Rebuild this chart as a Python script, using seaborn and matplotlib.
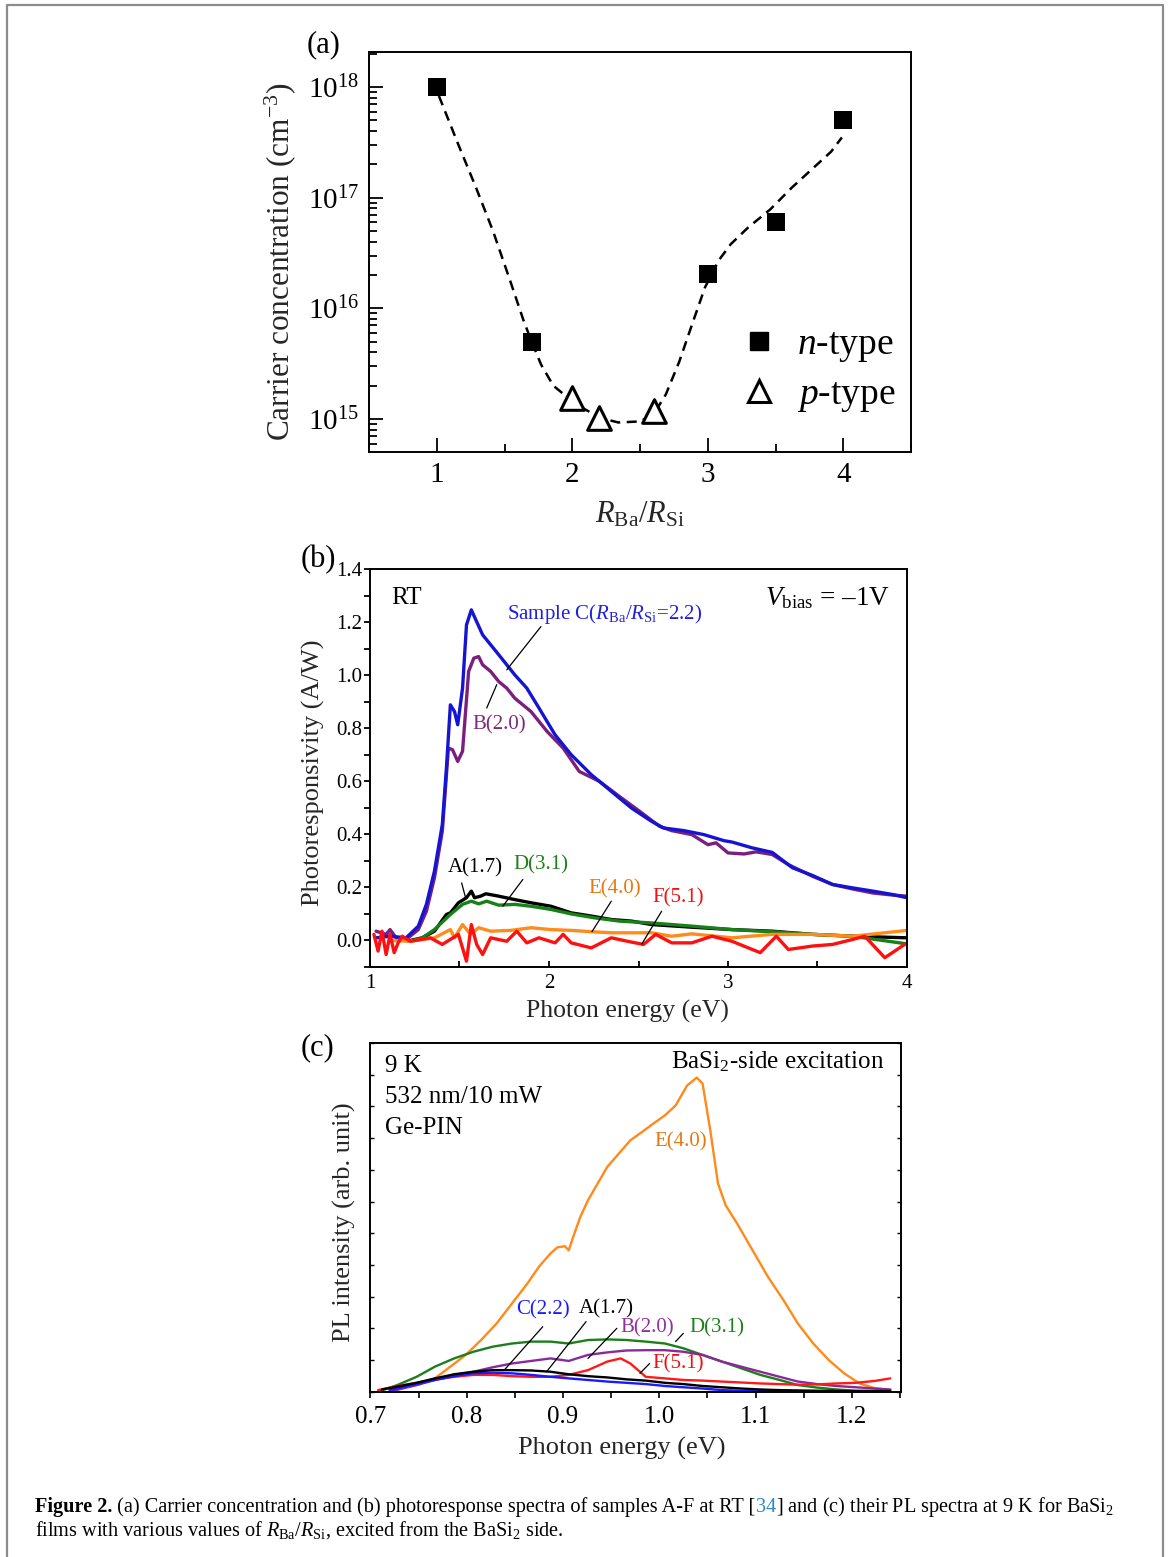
import numpy as np
import pandas as pd
import matplotlib
matplotlib.use("Agg")
import matplotlib.pyplot as plt
import seaborn as sns
from matplotlib.ticker import (MultipleLocator, LogLocator, NullFormatter,
                               FormatStrFormatter, NullLocator)
from matplotlib.lines import Line2D

# ---------------- data: panel (a) ----------------
ratio_n = [1.0, 1.7, 3.0, 3.5, 4.0]
conc_n = [1.0e18, 5.0e15, 2.05e16, 6.0e16, 5.0e17]
ratio_p = [2.0, 2.2, 2.6]
conc_p = [1.55e15, 1.02e15, 1.17e15]
fit_ratio = [1.016, 1.16, 1.29, 1.415, 1.54, 1.64, 1.70, 1.77, 1.86, 1.97, 2.09,
             2.21, 2.34, 2.50, 2.60, 2.69, 2.79, 2.885, 2.98, 3.08, 3.17, 3.30,
             3.46, 3.62, 3.78, 3.91, 3.99]
fit_conc = [8.3e17, 3.0e17, 1.23e17, 5.0e16, 1.8e16, 7.8e15, 5.0e15, 3.1e15,
            2.0e15, 1.55e15, 1.23e15, 1.02e15, 9.3e14, 9.5e14, 1.1e15, 1.66e15,
            3.3e15, 7.2e15, 1.55e16, 2.7e16, 3.8e16, 5.4e16, 7.8e16, 1.23e17,
            1.86e17, 2.6e17, 3.5e17]

# ---------------- data: panel (b) photoresponsivity ----------------
b_C_x = [1.034, 1.112, 1.202, 1.270, 1.315, 1.360, 1.404, 1.427, 1.449, 1.472, 1.490,
         1.517, 1.539, 1.566, 1.629, 1.719, 1.809, 1.876, 1.944, 2.034, 2.124, 2.236,
         2.348, 2.461, 2.573, 2.640, 2.753, 2.865, 2.978, 3.022, 3.135, 3.247, 3.360,
         3.472, 3.584, 3.697, 3.809, 3.921, 4.0]
b_C_y = [0.010, 0.016, 0.010, 0.054, 0.136, 0.261, 0.437, 0.650, 0.888, 0.863, 0.813,
         0.951, 1.189, 1.246, 1.152, 1.077, 1.001, 0.951, 0.876, 0.775, 0.700, 0.625,
         0.562, 0.499, 0.449, 0.424, 0.414, 0.399, 0.376, 0.371, 0.349, 0.332, 0.274,
         0.245, 0.211, 0.198, 0.186, 0.173, 0.161]
b_B_x = [1.034, 1.09, 1.112, 1.157, 1.202, 1.27, 1.315, 1.36, 1.404, 1.438, 1.461,
         1.49, 1.517, 1.551, 1.580, 1.607, 1.629, 1.674, 1.719, 1.764, 1.809, 1.899,
         1.989, 2.079, 2.169, 2.281, 2.393, 2.506, 2.618, 2.685, 2.798, 2.888, 2.933,
         3.0, 3.09, 3.157, 3.247, 3.337, 3.472, 3.584, 3.697, 3.809, 3.921, 4.0]
b_B_y = [0.035, 0.023, 0.041, 0.0, 0.004, 0.041, 0.11, 0.236, 0.412, 0.725, 0.719,
         0.675, 0.713, 1.014, 1.064, 1.070, 1.039, 1.014, 0.976, 0.951, 0.913, 0.863,
         0.788, 0.725, 0.637, 0.600, 0.543, 0.487, 0.430, 0.414, 0.399, 0.361, 0.368,
         0.330, 0.326, 0.334, 0.324, 0.286, 0.242, 0.211, 0.194, 0.179, 0.171, 0.167]
b_A_x = [1.225, 1.292, 1.36, 1.427, 1.449, 1.494, 1.539, 1.566, 1.584, 1.618, 1.647,
         1.719, 1.809, 1.899, 2.011, 2.124, 2.236, 2.348, 2.461, 2.573, 2.798, 3.022,
         3.247, 3.472, 3.697, 4.0]
b_A_y = [0.0, 0.010, 0.035, 0.098, 0.104, 0.142, 0.161, 0.186, 0.161, 0.167, 0.176,
         0.167, 0.154, 0.142, 0.129, 0.104, 0.092, 0.079, 0.073, 0.060, 0.050, 0.041,
         0.035, 0.023, 0.016, 0.010]
b_D_x = [1.225, 1.292, 1.36, 1.449, 1.517, 1.566, 1.607, 1.652, 1.719, 1.809, 1.899,
         2.011, 2.124, 2.258, 2.393, 2.573, 2.798, 3.022, 3.247, 3.472, 3.697, 4.0]
b_D_y = [-0.003, 0.010, 0.041, 0.098, 0.136, 0.148, 0.138, 0.148, 0.133, 0.136, 0.129,
         0.117, 0.100, 0.085, 0.073, 0.066, 0.054, 0.041, 0.033, 0.023, 0.016, -0.013]
b_E_x = [1.112, 1.225, 1.36, 1.449, 1.472, 1.517, 1.562, 1.607, 1.674, 1.787, 1.899,
         2.011, 2.124, 2.236, 2.348, 2.573, 2.685, 2.798, 3.022, 3.247, 3.472, 3.697, 4.0]
b_E_y = [0.0, -0.003, 0.010, 0.041, 0.010, 0.060, 0.023, 0.048, 0.035, 0.038, 0.048,
         0.041, 0.038, 0.033, 0.029, 0.029, 0.016, 0.025, 0.010, 0.023, 0.023, 0.016, 0.038]
b_F_x = [1.022, 1.045, 1.067, 1.09, 1.112, 1.135, 1.157, 1.18, 1.225, 1.337, 1.404,
         1.494, 1.539, 1.566, 1.596, 1.629, 1.674, 1.764, 1.82, 1.876, 1.944, 2.034,
         2.079, 2.124, 2.236, 2.348, 2.438, 2.528, 2.596, 2.685, 2.798, 2.91, 3.022,
         3.18, 3.27, 3.337, 3.472, 3.584, 3.697, 3.764, 3.876, 4.0]
b_F_y = [0.023, -0.040, 0.035, -0.053, 0.023, -0.046, -0.009, 0.016, -0.003, 0.010,
         -0.015, 0.023, -0.078, 0.060, -0.015, -0.053, 0.010, -0.003, 0.035, -0.009,
         0.010, -0.009, 0.023, -0.009, -0.028, 0.010, -0.003, -0.015, 0.023, -0.009,
         -0.009, 0.016, -0.003, -0.046, 0.016, -0.034, -0.021, -0.015, 0.004, 0.016,
         -0.065, -0.009]

# ---------------- data: panel (c) PL spectra ----------------
c_E_x = [0.72, 0.75, 0.767, 0.783, 0.799, 0.815, 0.831, 0.847, 0.863, 0.875, 0.887,
         0.894, 0.902, 0.906, 0.910, 0.918, 0.926, 0.934, 0.946, 0.958, 0.970, 0.982,
         0.994, 1.006, 1.017, 1.029, 1.039, 1.045, 1.053, 1.061, 1.069, 1.081, 1.097,
         1.113, 1.129, 1.144, 1.160, 1.176, 1.192, 1.208, 1.224, 1.240]
c_E_y = [0.05, 0.22, 0.42, 0.79, 1.16, 1.63, 2.15, 2.78, 3.41, 3.94, 4.36, 4.55, 4.59,
         4.46, 4.83, 5.51, 6.04, 6.46, 7.09, 7.51, 7.93, 8.19, 8.46, 8.72, 9.03, 9.66,
         9.91, 9.72, 8.25, 6.57, 5.88, 5.30, 4.46, 3.62, 2.89, 2.15, 1.52, 1.00, 0.58,
         0.26, 0.11, 0.05]
c_D_x = [0.708, 0.728, 0.748, 0.767, 0.787, 0.807, 0.827, 0.847, 0.867, 0.887, 0.906,
         0.926, 0.946, 0.966, 0.986, 1.006, 1.025, 1.045, 1.065, 1.085, 1.105, 1.125,
         1.144, 1.164, 1.184, 1.204, 1.240]
c_D_y = [0.0, 0.21, 0.47, 0.79, 1.05, 1.26, 1.42, 1.52, 1.58, 1.58, 1.52, 1.63, 1.65,
         1.63, 1.58, 1.52, 1.37, 1.16, 0.95, 0.74, 0.53, 0.37, 0.21, 0.13, 0.07, 0.03, 0.02]
c_B_x = [0.72, 0.748, 0.767, 0.787, 0.807, 0.827, 0.847, 0.867, 0.887, 0.906, 0.926,
         0.946, 0.966, 0.986, 1.006, 1.025, 1.045, 1.065, 1.085, 1.105, 1.125, 1.144,
         1.164, 1.184, 1.204, 1.224, 1.240]
c_B_y = [0.0, 0.21, 0.37, 0.49, 0.63, 0.77, 0.89, 0.97, 1.05, 0.97, 1.16, 1.24, 1.30,
         1.31, 1.31, 1.26, 1.16, 0.95, 0.79, 0.63, 0.47, 0.32, 0.24, 0.18, 0.14, 0.10, 0.07]
c_F_x = [0.708, 0.728, 0.748, 0.767, 0.787, 0.807, 0.827, 0.847, 0.867, 0.887, 0.906,
         0.926, 0.946, 0.960, 0.970, 0.978, 0.986, 1.006, 1.025, 1.045, 1.065, 1.085,
         1.105, 1.125, 1.144, 1.164, 1.184, 1.204, 1.224, 1.240]
c_F_y = [0.05, 0.18, 0.28, 0.39, 0.47, 0.53, 0.53, 0.49, 0.47, 0.47, 0.53, 0.68, 0.95,
         1.05, 0.89, 0.68, 0.47, 0.42, 0.37, 0.35, 0.32, 0.29, 0.26, 0.24, 0.22, 0.23,
         0.26, 0.28, 0.34, 0.42]
c_A_x = [0.712, 0.728, 0.748, 0.767, 0.787, 0.807, 0.827, 0.847, 0.867, 0.887, 0.906,
         0.926, 0.946, 0.966, 0.986, 1.006, 1.025, 1.045, 1.065, 1.085, 1.105, 1.125,
         1.164, 1.204, 1.240]
c_A_y = [0.07, 0.16, 0.28, 0.42, 0.55, 0.63, 0.68, 0.68, 0.67, 0.63, 0.55, 0.49, 0.45,
         0.39, 0.35, 0.28, 0.24, 0.18, 0.14, 0.10, 0.07, 0.05, 0.03, 0.02, 0.02]
c_C_x = [0.72, 0.748, 0.767, 0.787, 0.807, 0.827, 0.847, 0.867, 0.887, 0.906, 0.926,
         0.946, 0.966, 0.986, 1.006, 1.025, 1.045, 1.065, 1.085, 1.125, 1.164, 1.204]
c_C_y = [0.05, 0.24, 0.37, 0.49, 0.58, 0.60, 0.58, 0.53, 0.47, 0.42, 0.37, 0.32, 0.28,
         0.24, 0.18, 0.14, 0.10, 0.05, 0.03, 0.01, 0.0, 0.0]

# ---------------- style ----------------
sns.set_theme(style="ticks")
plt.rcParams["font.family"] = ["Liberation Serif", "DejaVu Serif"]
plt.rcParams["mathtext.fontset"] = "custom"
plt.rcParams["mathtext.rm"] = "Liberation Serif"
plt.rcParams["mathtext.it"] = "Liberation Serif:italic"
plt.rcParams["mathtext.bf"] = "Liberation Serif:bold"
plt.rcParams["axes.linewidth"] = 1.4
plt.rcParams["axes.edgecolor"] = "black"
plt.rcParams["text.color"] = "black"
plt.rcParams["xtick.color"] = "black"
plt.rcParams["ytick.color"] = "black"

W, H = 1170, 1557
fig = plt.figure(figsize=(W / 100, H / 100), dpi=100)
fig.patch.set_facecolor("white")


def ax_px(l, r, t, b):
    return fig.add_axes([l / W, 1 - b / H, (r - l) / W, (b - t) / H])


# ================= panel (a) =================
axa = ax_px(369, 911, 52, 452)
axa.set_yscale("log")
sns.lineplot(x=fit_ratio, y=fit_conc, ax=axa, color="black", linewidth=1.8,
             linestyle=(0, (4, 2.6)), estimator=None, sort=False, zorder=2)
sns.scatterplot(x=ratio_n, y=conc_n, ax=axa, marker="s", s=150, color="black",
                edgecolor="black", linewidth=0, zorder=4)
sns.scatterplot(x=ratio_p, y=conc_p, ax=axa, marker="^", s=290, facecolor="white",
                edgecolor="black", linewidth=2.2, zorder=4)
axa.set_xlim(0.5, 4.5)
axa.set_ylim(5.03e14, 2.07e18)
axa.xaxis.set_major_locator(MultipleLocator(1))
axa.xaxis.set_minor_locator(MultipleLocator(0.5))
axa.yaxis.set_major_locator(LogLocator(base=10, numticks=10))
axa.yaxis.set_minor_locator(LogLocator(base=10, subs=np.arange(2, 10), numticks=50))
axa.yaxis.set_minor_formatter(NullFormatter())
axa.tick_params(which="both", direction="in", top=False, right=False, width=1.3)
axa.tick_params(which="major", length=10, labelsize=21, pad=7)
axa.tick_params(which="minor", length=5.5)
axa.set_ylabel("Carrier concentration (cm$^{-3}$)", fontsize=22.5, va="center")
axa.yaxis.set_label_coords(-0.164, 0.475)
axa.set_xlabel("$R_\\mathrm{Ba}/R_\\mathrm{Si}$", fontsize=22, va="center")
axa.xaxis.set_label_coords(0.5, -0.1575)
handles = [Line2D([], [], marker="s", ls="", color="black", ms=12.5),
           Line2D([], [], marker="^", ls="", mfc="white", mec="black", mew=2.2, ms=16)]
axa.legend(handles, ["$n$-type", "$p$-type"], loc="center left",
           bbox_to_anchor=(0.685, 0.203), frameon=False, fontsize=27,
           handlelength=1.0, handletextpad=0.5, labelspacing=0.36,
           borderpad=0, borderaxespad=0)

# ================= panel (b) =================
axb = ax_px(370, 907, 569, 967)
b_series = [(b_A_x, b_A_y, "black"), (b_D_x, b_D_y, "#178017"),
            (b_B_x, b_B_y, "#7a1f7d"), (b_C_x, b_C_y, "#1414d2"),
            (b_E_x, b_E_y, "#ff8c1a"), (b_F_x, b_F_y, "#ff1010")]
for xs, ys, col in b_series:
    sns.lineplot(x=xs, y=ys, ax=axb, color=col, linewidth=2.4,
                 estimator=None, sort=False)
axb.set_xlim(1, 4)
axb.set_ylim(-0.1, 1.4)
axb.xaxis.set_major_locator(MultipleLocator(1))
axb.xaxis.set_minor_locator(MultipleLocator(0.5))
axb.yaxis.set_major_locator(MultipleLocator(0.2))
axb.yaxis.set_minor_locator(MultipleLocator(0.1))
axb.yaxis.set_major_formatter(FormatStrFormatter("%.1f"))
axb.tick_params(axis="y", which="both", direction="out", length=4, width=1.3,
                labelsize=15, pad=1.5, right=False)
axb.tick_params(axis="x", which="both", direction="in", length=4, width=1.3,
                labelsize=15, pad=5, top=False)
axb.set_ylabel("Photoresponsivity (A/W)", fontsize=19, va="center")
axb.yaxis.set_label_coords(-0.106, 0.487)
axb.set_xlabel("Photon energy (eV)", fontsize=18.5, va="center")
axb.xaxis.set_label_coords(0.48, -0.1106)
axb.text(1.117, 1.29, "RT", fontsize=18, ha="left", va="center")
axb.text(3.905, 1.29, "$V_\\mathrm{bias}$ = \u20131V", fontsize=19.5, ha="right", va="center")
axb.text(1.765, 1.23, "Sample C($R_\\mathrm{Ba}/R_\\mathrm{Si}$=2.2)", fontsize=15,
         ha="left", va="center", color="#2020e0")

b_labels = [("B(2.0)", 1.721, 0.813, "#7d2a7d"), ("A(1.7)", 1.589, 0.274, "black"),
            ("D(3.1)", 1.957, 0.286, "#1f7f1f"), ("E(4.0)", 2.369, 0.194, "#e6780e"),
            ("F(5.1)", 2.719, 0.161, "#ee1111")]
for txt, tx, ty, col in b_labels:
    axb.text(tx, ty, txt, fontsize=15, ha="center", va="center", color=col)
b_leaders = [((1.955, 1.183), (1.764, 1.02)), ((1.652, 0.876), (1.708, 0.964)),
             ((1.512, 0.217), (1.535, 0.158)), ((1.854, 0.23), (1.742, 0.129)),
             ((2.348, 0.148), (2.24, 0.033)), ((2.629, 0.11), (2.517, -0.015))]
for p0, p1 in b_leaders:
    axb.annotate("", xy=p1, xytext=p0,
                 arrowprops=dict(arrowstyle="-", color="black", lw=0.9,
                                 shrinkA=0, shrinkB=0))

# ================= panel (c) =================
axc = ax_px(370.4, 900.7, 1043, 1391.7)
c_series = [(c_E_x, c_E_y, "#ff8a1a"), (c_D_x, c_D_y, "#1c7f1c"),
            (c_B_x, c_B_y, "#8a2a9a"), (c_F_x, c_F_y, "#ff1a1a"),
            (c_C_x, c_C_y, "#1a1aff"), (c_A_x, c_A_y, "black")]
for xs, ys, col in c_series:
    sns.lineplot(x=xs, y=ys, ax=axc, color=col, linewidth=1.7,
                 estimator=None, sort=False)
axc.set_xlim(0.7, 1.2508)
axc.set_ylim(0, 11)
axc.xaxis.set_major_locator(MultipleLocator(0.1))
axc.xaxis.set_minor_locator(MultipleLocator(0.05))
axc.xaxis.set_major_formatter(FormatStrFormatter("%.1f"))
axc.yaxis.set_major_locator(MultipleLocator(1))
axc.yaxis.set_minor_locator(NullLocator())
axc.tick_params(axis="x", which="both", direction="out", length=4, width=1.2,
                labelsize=18, pad=6, top=False)
axc.tick_params(axis="y", which="both", direction="in", length=3, width=1.0,
                left=True, right=True, labelleft=False)
axc.set_ylabel("PL intensity (arb. unit)", fontsize=19, va="center")
axc.yaxis.set_label_coords(-0.048, 0.487)
axc.set_xlabel("Photon energy (eV)", fontsize=19, va="center")
axc.xaxis.set_label_coords(0.474, -0.164)
axc.text(0.715, 10.27, "9 K", fontsize=18, ha="left", va="center")
axc.text(0.715, 9.30, "532 nm/10 mW", fontsize=18, ha="left", va="center")
axc.text(0.715, 8.32, "Ge-PIN", fontsize=18, ha="left", va="center")
axc.text(1.2333, 10.40, "BaSi$_2$-side excitation", fontsize=18, ha="right", va="center")
c_labels = [("E(4.0)", 1.022, 7.88, "#e6780e"), ("C(2.2)", 0.8796, 2.58, "#1a1aff"),
            ("A(1.7)", 0.945, 2.61, "black"), ("B(2.0)", 0.987, 2.01, "#9030a0"),
            ("D(3.1)", 1.06, 2.01, "#1f7f1f"), ("F(5.1)", 1.02, 0.88, "#ee1111")]
for txt, tx, ty, col in c_labels:
    axc.text(tx, ty, txt, fontsize=15, ha="center", va="center", color=col)
c_leaders = [((0.879, 2.05), (0.839, 0.68)), ((0.924, 2.21), (0.883, 0.63)),
             ((0.956, 2.00), (0.926, 1.05)), ((1.025, 1.84), (1.017, 1.58)),
             ((0.99, 0.89), (0.98, 0.58))]
for p0, p1 in c_leaders:
    axc.annotate("", xy=p1, xytext=p0,
                 arrowprops=dict(arrowstyle="-", color="black", lw=0.9,
                                 shrinkA=0, shrinkB=0))

# ---------------- panel letters ----------------
fig.text(324 / W, 1 - 45 / H, "(a)", fontsize=22, ha="center", va="center")
fig.text(318 / W, 1 - 560 / H, "(b)", fontsize=22, ha="center", va="center")
fig.text(317 / W, 1 - 1048 / H, "(c)", fontsize=22, ha="center", va="center")

# ---------------- page border ----------------
fig.add_artist(Line2D([7 / W, 7 / W, 1163 / W, 1163 / W], [0, 1 - 5 / H, 1 - 5 / H, 0],
                      transform=fig.transFigure, color="#8c8c8c", lw=1.6))

# ---------------- caption ----------------
cap_size = 14.6
line1 = [("Figure 2.", dict(fontweight="bold")),
         (" (a) Carrier concentration and (b) photoresponse spectra of samples A-F at RT [", {}),
         ("34", dict(color="#2a8ac8")),
         ("] and (c) their PL spectra at 9 K for BaSi$_2$", {})]
line2 = [("films with various values of $R_\\mathrm{Ba}/R_\\mathrm{Si}$, excited from the BaSi$_2$ side.", {})]
fig.canvas.draw()
renderer = fig.canvas.get_renderer()
for pieces, base_y in [(line1, 1512), (line2, 1536)]:
    xpos = 35
    for txt, kw in pieces:
        t = fig.text(xpos / W, 1 - base_y / H, txt, fontsize=cap_size, ha="left",
                     va="baseline", **kw)
        bb = t.get_window_extent(renderer=renderer)
        xpos = bb.x1

fig.savefig("out.png", dpi=100, facecolor="white")
